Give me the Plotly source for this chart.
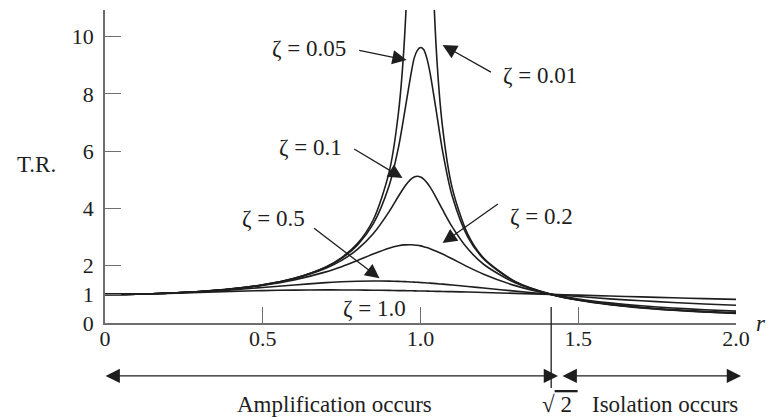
import plotly.graph_objects as go

# Frequency ratio r = w / wn (shared sample points for every curve)
r_vals = [0.0, 0.1, 0.2, 0.3, 0.4, 0.5, 0.6, 0.7, 0.75, 0.8, 0.85, 0.9, 0.93, 0.95,
          0.97, 0.98, 0.99, 1.0, 1.01, 1.02, 1.03, 1.05, 1.07, 1.1, 1.15, 1.2, 1.3,
          1.414, 1.5, 1.6, 1.7, 1.8, 1.9, 2.0]

# Transmissibility ratio T.R. for each damping ratio
tr_z001 = [1.0, 1.010, 1.042, 1.099, 1.190, 1.333, 1.562, 1.960, 2.285, 2.775, 3.597, 5.241, 7.334, 10.07,
           16.08, 22.64, 35.63, 50.01, 35.10, 22.10, 15.56, 9.56, 6.829, 4.737, 3.094, 2.270, 1.449,
           1.0, 0.800, 0.641, 0.529, 0.447, 0.383, 0.334]
tr_z005 = [1.0, 1.010, 1.042, 1.099, 1.190, 1.332, 1.559, 1.947, 2.259, 2.720, 3.458, 4.776, 6.123, 7.38,
           8.70, 9.25, 9.52, 9.62, 9.55, 9.25, 8.75, 7.40, 6.00, 4.45, 3.00, 2.240, 1.436,
           1.0, 0.803, 0.646, 0.535, 0.452, 0.389, 0.339]
tr_z01 = [1.0, 1.010, 1.042, 1.099, 1.189, 1.328, 1.547, 1.909, 2.186, 2.571, 3.117, 3.882, 4.425, 4.766,
          5.023, 5.096, 5.123, 5.099, 5.026, 4.908, 4.753, 4.373, 3.957, 3.367, 2.590, 2.052, 1.401,
          1.0, 0.812, 0.659, 0.550, 0.469, 0.406, 0.356]
tr_z02 = [1.0, 1.010, 1.041, 1.097, 1.184, 1.314, 1.505, 1.785, 1.968, 2.180, 2.407, 2.611, 2.696, 2.727,
          2.733, 2.726, 2.713, 2.693, 2.666, 2.634, 2.597, 2.509, 2.407, 2.241, 1.959, 1.704, 1.305,
          1.0, 0.841, 0.704, 0.602, 0.524, 0.462, 0.413]
tr_z05 = [1.0, 1.010, 1.040, 1.090, 1.158, 1.240, 1.329, 1.409, 1.440, 1.460, 1.468, 1.463, 1.453, 1.444,
          1.434, 1.428, 1.421, 1.414, 1.407, 1.399, 1.391, 1.374, 1.356, 1.328, 1.276, 1.222, 1.114,
          1.0, 0.923, 0.844, 0.776, 0.717, 0.665, 0.620]
tr_z10 = [1.0, 1.010, 1.036, 1.070, 1.104, 1.131, 1.149, 1.155, 1.154, 1.151, 1.145, 1.138, 1.132, 1.129,
          1.125, 1.122, 1.120, 1.118, 1.116, 1.114, 1.111, 1.106, 1.101, 1.094, 1.080, 1.066, 1.036,
          1.0, 0.973, 0.942, 0.911, 0.881, 0.852, 0.825]

curves = [tr_z001, tr_z005, tr_z01, tr_z02, tr_z05, tr_z10]

# Curve labels: (text, label x, label y, arrow tail x, tail y, arrow tip x, tip y)
curve_labels = [
    ("ζ = 0.05", 0.646, 9.60, 0.801, 9.53, 0.956, 9.18),
    ("ζ = 0.01", 1.380, 8.66, 1.228, 8.73, 1.070, 9.71),
    ("ζ = 0.1", 0.652, 6.14, 0.785, 6.11, 0.943, 5.06),
    ("ζ = 0.2", 1.383, 3.73, 1.250, 4.19, 1.070, 2.79),
    ("ζ = 0.5", 0.535, 3.66, 0.658, 3.35, 0.870, 1.56),
    ("ζ = 1.0", 0.854, 0.51, None, None, None, None),
]

x_ticks = [0, 0.5, 1.0, 1.5, 2.0]
x_tick_text = ["0", "0.5", "1.0", "1.5", "2.0"]
y_ticks = [0, 1, 2, 4, 6, 8, 10]
y_tick_text = ["0", "1", "2", "4", "6", "8", "10"]

SERIF = "Liberation Serif"
INK = "#1e1e1e"
AXIS = "#6e6e6e"

fig = go.Figure()
for tr in curves:
    fig.add_trace(go.Scatter(
        x=r_vals, y=tr, mode="lines",
        line=dict(color=INK, width=1.6, shape="spline", smoothing=0.8),
        showlegend=False, hoverinfo="skip",
    ))

annotations = []
for text, lx, ly, tx, ty, hx, hy in curve_labels:
    annotations.append(dict(x=lx, y=ly, xref="x", yref="y", text=text, showarrow=False,
                            xanchor="center", yanchor="middle",
                            font=dict(family=SERIF, size=23, color=INK)))
    if tx is not None:
        annotations.append(dict(x=hx, y=hy, xref="x", yref="y", ax=tx, ay=ty,
                                axref="x", ayref="y", text="", showarrow=True,
                                arrowhead=2, arrowsize=2.2, arrowwidth=1.3,
                                arrowcolor=INK, standoff=0))

# Region arrows and captions below the axis
arrow_y = -0.169
text_y = -0.259
caption_font = dict(family=SERIF, size=23, color=INK)
annotations += [
    dict(x=0.718, y=arrow_y, xref="paper", yref="paper", ax=-454, ay=0, text="",
         showarrow=True, arrowside="end+start", arrowhead=2, startarrowhead=2,
         arrowsize=2.2, startarrowsize=2.2, arrowwidth=1.3, arrowcolor=INK),
    dict(x=1.008, y=arrow_y, xref="paper", yref="paper", ax=-180, ay=0, text="",
         showarrow=True, arrowside="end+start", arrowhead=2, startarrowhead=2,
         arrowsize=2.2, startarrowsize=2.2, arrowwidth=1.3, arrowcolor=INK),
    dict(x=0.3645, y=text_y, xref="paper", yref="paper", text="Amplification occurs",
         xanchor="center", yanchor="middle", showarrow=False, font=caption_font),
    dict(x=0.721, y=text_y, xref="paper", yref="paper",
         text="√<span style='text-decoration:overline'>\u00a02\u00a0</span>",
         xanchor="center", yanchor="middle", showarrow=False, font=caption_font),
    dict(x=0.888, y=text_y, xref="paper", yref="paper", text="Isolation occurs",
         xanchor="center", yanchor="middle", showarrow=False, font=caption_font),
    dict(x=-0.109, y=0.505, xref="paper", yref="paper", text="T.R.",
         xanchor="center", yanchor="middle", showarrow=False, font=caption_font),
    dict(x=1.0507, y=0.0, xref="paper", yref="paper", text="<i>r</i>",
         xanchor="right", yanchor="middle", showarrow=False, font=caption_font),
]

fig.update_layout(
    width=769, height=417,
    margin=dict(l=105, r=33, t=10, b=94),
    paper_bgcolor="white", plot_bgcolor="white",
    annotations=annotations,
    shapes=[dict(type="line", xref="x", yref="paper", x0=2 ** 0.5, x1=2 ** 0.5,
                 y0=0.051, y1=-0.208, line=dict(color=INK, width=1.3))],
    xaxis=dict(range=[0, 2.0], showgrid=False, zeroline=False, showline=True,
               linecolor=AXIS, linewidth=1.6, ticks="inside", ticklen=16,
               tickwidth=1.4, tickcolor=AXIS, tickvals=x_ticks, ticktext=x_tick_text,
               ticklabelstandoff=-5,
               tickfont=dict(family=SERIF, size=22, color=INK)),
    yaxis=dict(range=[0, 10.93], showgrid=False, zeroline=False, showline=True,
               linecolor=AXIS, linewidth=1.6, ticks="inside", ticklen=16,
               tickwidth=1.4, tickcolor=AXIS, tickvals=y_ticks, ticktext=y_tick_text,
               ticklabelstandoff=5,
               tickfont=dict(family=SERIF, size=22, color=INK)),
)

fig.write_html("out.html")
